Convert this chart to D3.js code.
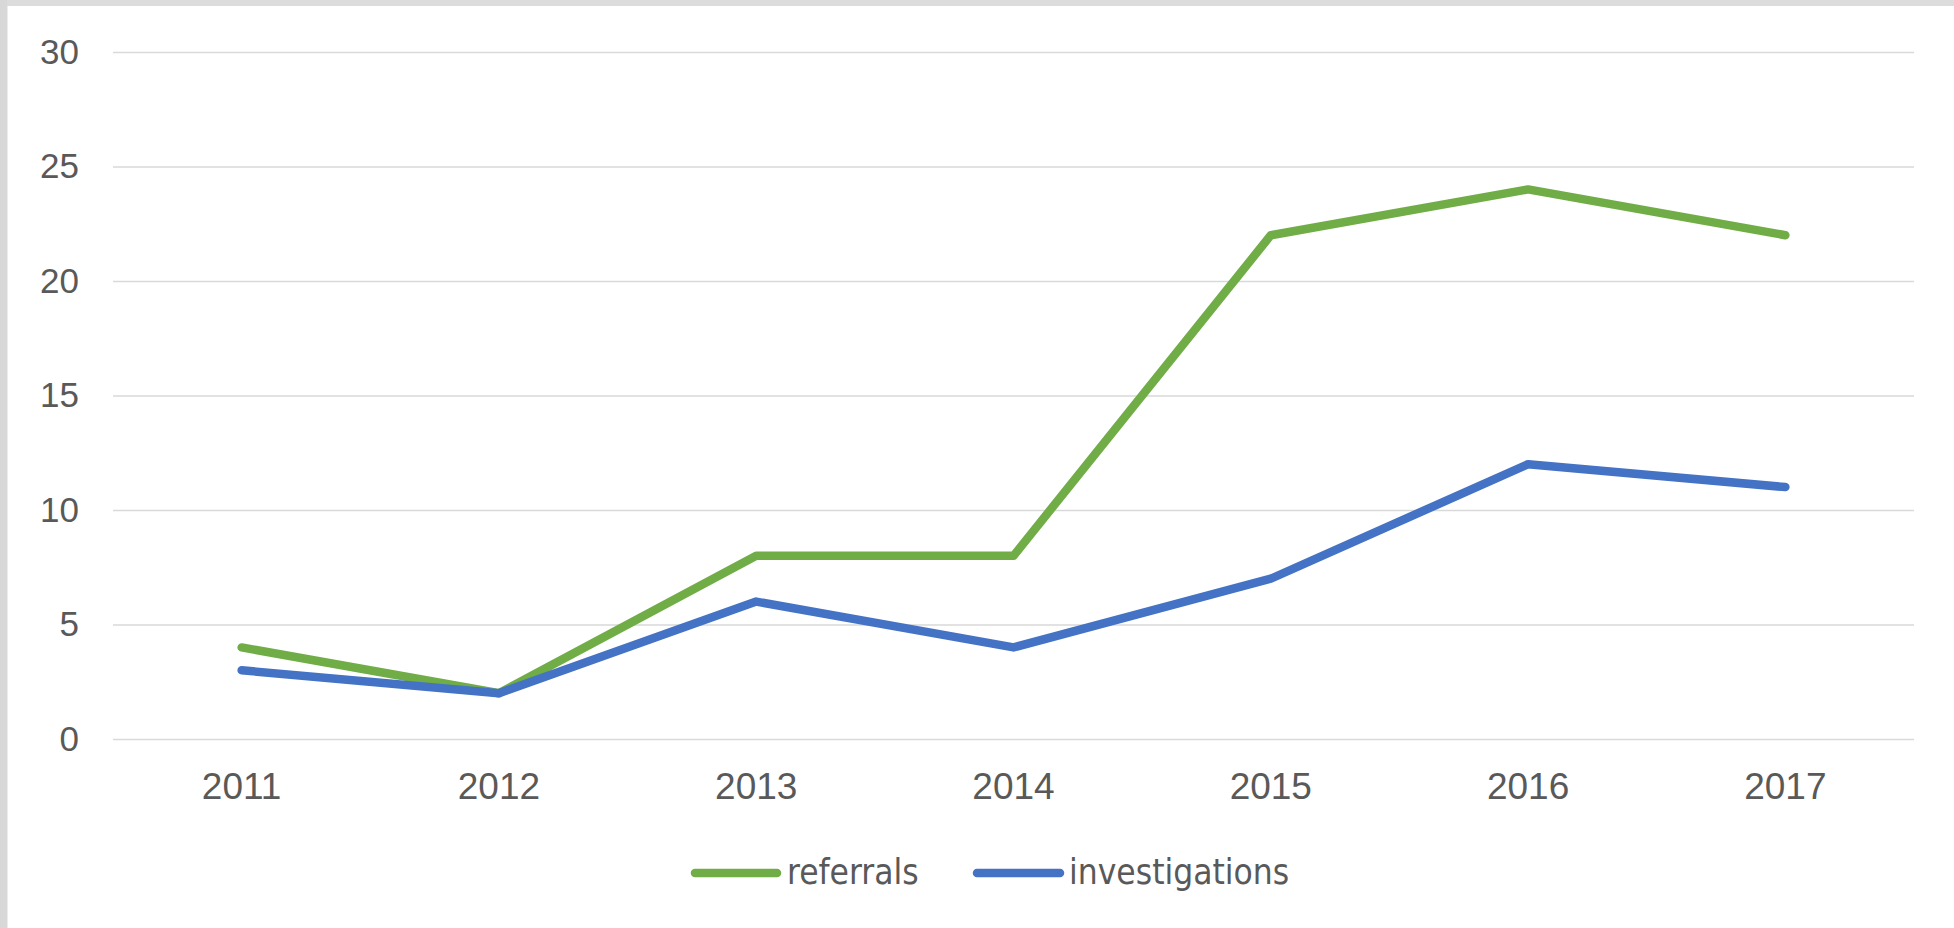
<!DOCTYPE html>
<html>
<head>
<meta charset="utf-8">
<script src="https://cdn.jsdelivr.net/npm/d3@7"></script>
<style>
  html, body { margin: 0; padding: 0; background: #fff; }
  svg { display: block; }
</style>
</head>
<body>
<svg id="chart" width="1954" height="928"></svg>
<script>
const categories = ["2011", "2012", "2013", "2014", "2015", "2016", "2017"];
const referrals = [4, 2, 8, 8, 22, 24, 22];
const investigations = [3, 2, 6, 4, 7, 12, 11];
const yTicks = [0, 5, 10, 15, 20, 25, 30];
const seriesNames = ["referrals", "investigations"];
const seriesColors = ["#70AD47", "#4472C4"];

const svg = d3.select("#chart");
const W = 1954, H = 928;
const plot = { left: 113, right: 1914, top: 52, bottom: 739 };

// frame edges
svg.append("rect").attr("x", 0).attr("y", 0).attr("width", W).attr("height", H).attr("fill", "#fff");
svg.append("rect").attr("x", 0).attr("y", 0).attr("width", W).attr("height", 6).attr("fill", "#dcdcdc");
svg.append("rect").attr("x", 0).attr("y", 0).attr("width", 7).attr("height", H).attr("fill", "#d8d8d8");
svg.append("rect").attr("x", 7).attr("y", 6).attr("width", 1).attr("height", H).attr("fill", "#ececec");

const x = d3.scaleBand().domain(categories).range([plot.left, plot.right]).padding(0);
const y = d3.scaleLinear().domain([0, 30]).range([plot.bottom, plot.top]);

// gridlines
const yAxis = d3.axisLeft(y).tickValues(yTicks).tickSize(-(plot.right - plot.left)).tickPadding(34).tickFormat(d3.format("d"));
const gy = svg.append("g").attr("transform", `translate(${plot.left},0)`).call(yAxis);
gy.select(".domain").remove();
gy.selectAll(".tick line").attr("stroke", "#d9d9d9").attr("stroke-width", 1.6);
gy.selectAll(".tick text")
  .attr("fill", "#595959")
  .style("font-family", "'Liberation Sans', Arial, sans-serif")
  .style("font-size", "35px");

// x axis labels
const xAxis = d3.axisBottom(x).tickSize(0).tickPadding(34);
const gx = svg.append("g").attr("transform", `translate(0,${plot.bottom})`).call(xAxis);
gx.select(".domain").remove();
gx.selectAll(".tick text")
  .attr("fill", "#595959")
  .style("font-family", "'Liberation Sans', Arial, sans-serif")
  .style("font-size", "37px");

// lines
const line = d3.line()
  .x((d, i) => x(categories[i]) + x.bandwidth() / 2)
  .y(d => y(d));

[referrals, investigations].forEach((vals, k) => {
  svg.append("path")
    .datum(vals)
    .attr("d", line)
    .attr("fill", "none")
    .attr("stroke", seriesColors[k])
    .attr("stroke-width", 8.5)
    .attr("stroke-linejoin", "round")
    .attr("stroke-linecap", "round");
});

// legend
const legendItems = [
  { x1: 695, x2: 777, tx: 787 },
  { x1: 977, x2: 1060, tx: 1069 }
];
const ly = 873;
legendItems.forEach((it, k) => {
  svg.append("line")
    .attr("x1", it.x1).attr("x2", it.x2)
    .attr("y1", ly).attr("y2", ly)
    .attr("stroke", seriesColors[k])
    .attr("stroke-width", 8.5)
    .attr("stroke-linecap", "round");
  svg.append("text")
    .attr("x", it.tx).attr("y", 884)
    .attr("fill", "#595959")
    .style("font-family", "'Liberation Sans Narrow', 'DejaVu Sans Condensed', sans-serif")
    .style("font-size", "35px")
    .text(seriesNames[k]);
});
</script>
</body>
</html>
